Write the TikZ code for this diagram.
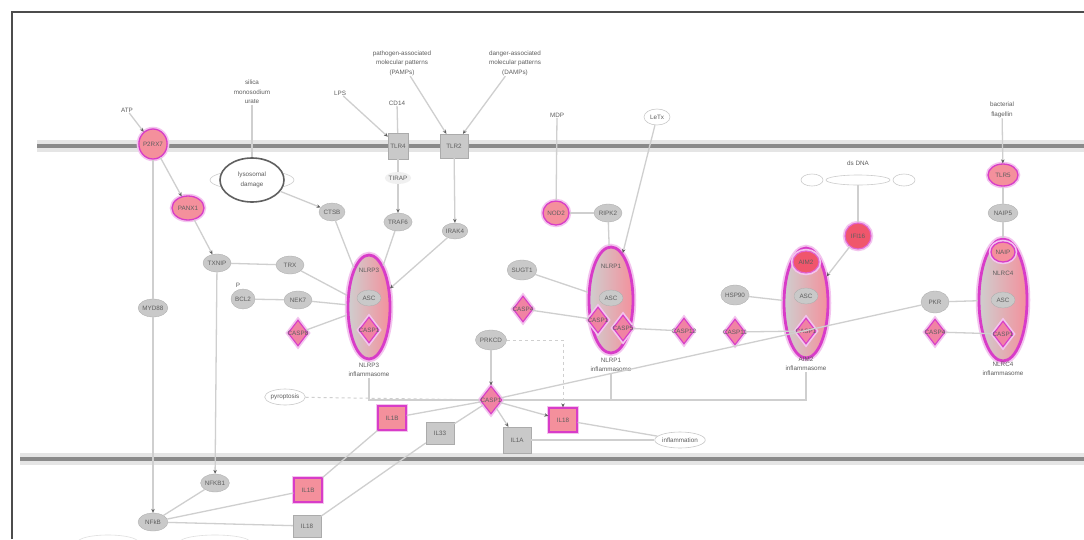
\documentclass[tikz,border=0pt]{standalone}
\usepackage{fontspec}
\setmainfont{Liberation Sans}
\usetikzlibrary{shapes.geometric,arrows.meta}
\definecolor{mag}{HTML}{D83CC8}
\definecolor{pinkfill}{HTML}{F4909C}
\definecolor{redfill}{HTML}{F0566C}
\definecolor{graynode}{HTML}{C9C9C9}
\definecolor{edgec}{HTML}{CFCFCF}
\definecolor{memb}{HTML}{8A8A8A}
\definecolor{txt}{HTML}{5E5E5E}
\begin{document}
\begin{tikzpicture}[x=1pt,y=-1pt,
  lbl/.style={font=\fontsize{6.3}{9.5}\selectfont, text=txt, align=center, inner sep=0.5pt},
  gnode/.style={ellipse, fill=graynode, draw=graynode!85!black, line width=0.3, lbl, inner sep=0pt, minimum width=28, minimum height=18},
  wnode/.style={ellipse, fill=white, draw=graynode, line width=0.6, lbl, inner sep=0pt, minimum width=26, minimum height=16},
  grect/.style={rectangle, fill=graynode, draw=graynode!85!black, line width=0.3, lbl, minimum width=28, minimum height=22},
  halo/.style={preaction={draw=mag!30, line width=4.5}},
  pnode/.style={ellipse, fill=pinkfill, draw=mag, line width=1.3, halo, lbl, inner sep=0pt, minimum width=28, minimum height=24},
  rnode/.style={ellipse, fill=redfill, draw=mag!80, line width=1.1, halo, lbl, inner sep=0pt, minimum width=26, minimum height=24},
  pdia/.style={diamond, fill=pinkfill!85!mag, draw=mag, line width=1.1, halo, minimum width=20, minimum height=26, inner sep=0},
  prect/.style={rectangle, fill=pinkfill, draw=mag, line width=1.3, halo, lbl, minimum width=28, minimum height=24},
  cplx/.style={ellipse, draw=mag, line width=2.8, preaction={draw=mag!30, line width=6.5},
    left color=graynode!90, right color=pinkfill, minimum width=42, minimum height=104},
  edge/.style={draw=edgec, line width=1.3},
  act/.style={edge, -{Stealth[length=4pt,width=3.5pt,color=txt]}},
  dashedge/.style={edge, dashed, line width=1},
  mline/.style={line width=12, draw=gray!20},
  mcore/.style={line width=4, draw=memb}
]
\useasboundingbox (0,0) rectangle (1084,539);
\fill[white] (0,0) rectangle (1084,539);
% frame
\draw[gray!60!black, line width=1.6] (12,539) -- (12,12) -- (1084,12);
% membranes
\coordinate (m1a) at (37,146); \coordinate (m1b) at (1084,146);
\coordinate (m2a) at (20,459); \coordinate (m2b) at (1084,459);
\draw[mline] (m1a) -- (m1b); \draw[mcore] (m1a) -- (m1b);
\draw[mline] (m2a) -- (m2b); \draw[mcore] (m2a) -- (m2b);

% ---------- complexes ----------
\node[cplx] (c1) at (369,307) {};
\node[cplx, minimum width=44, minimum height=106] (c2) at (611,300) {};
\node[cplx, minimum width=44, minimum height=110] (c3) at (806,303) {};
\node[cplx, minimum width=48, minimum height=122] (c4) at (1003,300) {};

\node[lbl] (c1lab) at (369,370) {NLRP3\\inflammasome};
\node[lbl] (c2lab) at (611,365) {NLRP1\\inflammasome};
\node[lbl] (c3lab) at (806,364) {AIM2\\inflammasome};
\node[lbl] (c4lab) at (1003,369) {NLRC4\\inflammasome};

% complex members
\node[lbl] (c1a) at (369,270) {NLRP3};
\node[gnode, minimum width=24, minimum height=16] (c1b) at (369,298) {ASC};
\node[pdia, label={[lbl]center:CASP1}] (c1c) at (369,330) {};

\node[lbl] (c2a) at (611,266) {NLRP1};
\node[gnode, minimum width=24, minimum height=16] (c2b) at (611,298) {ASC};
\node[pdia, label={[lbl]center:CASP1}] (c2c) at (598,320) {};
\node[pdia, label={[lbl]center:CASP5}] (c2d) at (623,328) {};

\node[rnode, minimum width=26, minimum height=22] (c3a) at (806,262) {AIM2};
\node[gnode, minimum width=24, minimum height=16] (c3b) at (806,296) {ASC};
\node[pdia, label={[lbl]center:CASP1}] (c3c) at (806,331) {};

\node[pnode, minimum width=24, minimum height=20] (c4a) at (1003,252) {NAIP};
\node[lbl] (c4b) at (1003,273) {NLRC4};
\node[gnode, minimum width=24, minimum height=16] (c4c) at (1003,300) {ASC};
\node[pdia, label={[lbl]center:CASP1}] (c4d) at (1003,334) {};

% ---------- left region ----------
\node[lbl] (atp) at (127,110) {ATP};
\node[pnode, minimum width=24, minimum height=30] (p2rx7) at (153,144) {P2RX7};
\node[pnode, minimum width=32, minimum height=24] (panx) at (188,208) {PANX1};
\node[lbl] (cryst) at (252,92) {silica\\monosodium\\urate};
\node[ellipse, draw=gray!40, line width=0.6, minimum width=84, minimum height=20] (lysh) at (252,180) {};
\node[ellipse, draw=gray!75!black, line width=1.6, fill=white, lbl, minimum width=64, minimum height=44] (lys) at (252,180) {lysosomal\\damage};
\node[gnode, minimum width=26] (ctsb) at (332,212) {CTSB};
\node[gnode] (k1) at (217,263) {TXNIP};
\node[gnode] (k2) at (290,265) {TRX};
\node[gnode, minimum width=26] (mapk) at (153,308) {MYD88};
\node[gnode, minimum width=24, minimum height=20] (bcl) at (243,299) {BCL2};
\node[lbl] (bcl2) at (238,285) {P};
\node[gnode] (nek) at (298,300) {NEK7};
\node[pdia, label={[lbl]center:CASP8}] (c8) at (298,333) {};

% ---------- top middle ----------
\node[lbl] (pamp) at (402,63) {pathogen-associated\\molecular patterns\\(PAMPs)};
\node[lbl] (damp) at (515,63) {danger-associated\\molecular patterns\\(DAMPs)};
\node[lbl] (lps) at (340,93) {LPS};
\node[lbl] (cd14) at (397,103) {CD14};
\node[grect, minimum width=20, minimum height=26] (tlr4) at (398,146) {TLR4};
\node[grect, minimum width=28, minimum height=24] (tlr2) at (454,146) {TLR2};
\node[wnode, minimum width=20, minimum height=12, draw=none, fill=gray!12] (tirap) at (398,178) {TIRAP};
\node[gnode, minimum width=24] (traf) at (398,222) {TRAF6};
\node[gnode, minimum width=24, minimum height=16] (myd) at (455,231) {IRAK4};

\node[lbl] (mdp) at (557,115) {MDP};
\node[pnode, minimum width=26, minimum height=24] (nod2) at (556,213) {NOD2};
\node[gnode] (ripk) at (608,213) {RIPK2};
\node[wnode] (letx) at (657,117) {LeTx};
\node[gnode, minimum width=26, minimum height=20] (g522) at (522,270) {SUGT1};
\node[pdia, label={[lbl]center:CASP4}] (d523) at (523,309) {};
\node[pdia, label={[lbl]center:CASP12}] (d684) at (684,331) {};

% ---------- right ----------
\node[gnode, minimum width=26, minimum height=20] (g735) at (735,295) {HSP90};
\node[pdia, label={[lbl]center:CASP11}] (d735) at (735,332) {};
\node[lbl] (dnal) at (858,163) {ds DNA};
\node[ellipse, draw=gray!40, fill=white, line width=0.6, minimum width=64, minimum height=10] (dna) at (858,180) {};
\node[ellipse, draw=gray!40, fill=white, line width=0.6, minimum width=22, minimum height=12] (dnal1) at (812,180) {};
\node[ellipse, draw=gray!40, fill=white, line width=0.6, minimum width=22, minimum height=12] (dnar1) at (904,180) {};
\node[rnode, minimum width=26, minimum height=26] (ifi) at (858,236) {IFI16};
\node[lbl] (flag) at (1002,110) {bacterial\\flagellin};
\node[pnode, minimum width=30, minimum height=22] (tlr5) at (1003,175) {TLR5};
\node[gnode, minimum width=30] (naip) at (1003,213) {NAIP5};
\node[gnode, minimum width=28, minimum height=22] (g935) at (935,302) {PKR};
\node[pdia, label={[lbl]center:CASP4}] (d935) at (935,332) {};

% ---------- hub and products ----------
\node[pdia, minimum width=22, minimum height=28, label={[lbl]center:CASP1}] (hub) at (491,400) {};
\node[gnode, minimum width=30, minimum height=20] (pkc) at (491,340) {PRKCD};
\node[wnode, minimum width=40] (pyro) at (285,397) {pyroptosis};
\node[prect] (il1b) at (392,418) {IL1B};
\node[grect] (il33) at (440,433) {IL33};
\node[grect, minimum height=26] (gsd) at (517,440) {IL1A};
\node[prect] (il18) at (563,420) {IL18};
\node[wnode, minimum width=32] (infl) at (680,440) {inflammation};

% ---------- nucleus ----------
\node[gnode] (nfkb) at (215,483) {NFKB1};
\node[gnode, minimum width=30] (nfc) at (153,522) {NFkB};
\node[prect] (il1bg) at (308,490) {IL1B};
\node[grect] (il18g) at (307,526) {IL18};
\node[ellipse, draw=gray!25, line width=0.6, minimum width=60, minimum height=14] (tr1) at (108,542) {};
\node[ellipse, draw=gray!25, line width=0.6, minimum width=70, minimum height=14] (tr2) at (215,542) {};

% ---------- connectors ----------
\draw[act] (atp) -- (p2rx7);
\draw[act] (p2rx7) -- (panx);
\draw[edge] (p2rx7) -- (mapk);
\draw[act] (mapk) -- (nfc);
\draw[act] (panx) -- (k1);
\draw[edge] (k1) -- (k2);
\draw[edge] (k2) -- (c1);
\draw[act] (k1) -- (nfkb);
\draw[edge] (bcl) -- (nek);
\draw[edge] (nek) -- (c1);
\draw[edge] (c8) -- (c1);
\draw[edge] (cryst) -- (lys);
\draw[act] (lys) -- (ctsb);
\draw[edge] (ctsb) -- (c1);
\draw[act] (lps) -- (tlr4);
\draw[edge] (cd14) -- (tlr4);
\draw[act] (pamp) -- (tlr2);
\draw[act] (damp) -- (tlr2);
\draw[edge] (tlr4) -- (tirap);
\draw[act] (tirap) -- (traf);
\draw[edge] (traf) -- (c1);
\draw[act] (tlr2) -- (myd);
\draw[act] (myd) -- (c1);

\draw[edge] (mdp) -- (nod2);
\draw[edge] (nod2) -- (ripk);
\draw[edge] (ripk) -- (c2);
\draw[act] (letx) -- (c2);
\draw[edge] (g522) -- (c2);
\draw[edge] (d523) -- (c2c);
\draw[edge] (c2d) -- (d684);
\draw[edge] (d735) -- (c3c);
\draw[edge] (g735) -- (c3);
\draw[edge] (dna) -- (ifi);
\draw[act] (ifi) -- (c3);
\draw[act] (flag) -- (tlr5);
\draw[edge] (tlr5) -- (naip);
\draw[edge] (naip) -- (c4);
\draw[edge] (g935) -- (c4);
\draw[edge] (d935) -- (c4d);
\draw[edge] (g935) -- (hub);

\draw[act] (pkc) -- (hub);
\draw[dashedge, -{Stealth[length=4pt,width=3.5pt,color=txt]}] (pkc) -| (il18);
\draw[edge] (c1lab) |- (hub);
\draw[dashedge] (pyro) -- (hub);
\draw[edge] (hub) -| (c2lab);
\draw[edge] (hub) -| (c3lab);
\draw[edge] (hub) -- (il1b);
\draw[edge] (hub) -- (il33);
\draw[act] (hub) -- (gsd);
\draw[act] (hub) -- (il18);
\draw[edge] (il18) -- (infl);
\draw[edge] (gsd) -- (infl);
\draw[edge] (il1b) -- (il1bg);
\draw[edge] (il33) -- (il18g);

\draw[edge] (nfc) -- (nfkb);
\draw[edge] (nfc) -- (il1bg);
\draw[edge] (nfc) -- (il18g);
\end{tikzpicture}
\end{document}
